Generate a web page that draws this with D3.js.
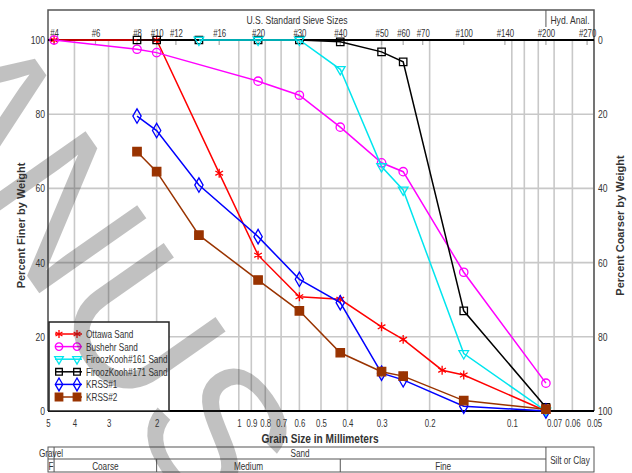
<!DOCTYPE html>
<html>
<head>
<meta charset="utf-8">
<script src="https://cdn.jsdelivr.net/npm/d3@7"></script>
<style>
body { margin: 0; background: #fff; }
svg { display: block; }
text { font-family: "Liberation Sans", Arial, sans-serif; fill: #333; }
</style>
</head>
<body>
<div id="chart"></div>
<script>
// sieve numbers on the top axis
var sieveNames = ["#4", "#6", "#8", "#10", "#12", "#16", "#20", "#30", "#40", "#50", "#60", "#70", "#100", "#140", "#200", "#270"];
var sieveMm = [4.75, 3.35, 2.36, 2.0, 1.7, 1.18, 0.85, 0.6, 0.425, 0.3, 0.25, 0.212, 0.15, 0.106, 0.075, 0.053];

// grid and tick values
var gridMm = [5, 4, 3, 2, 1, 0.9, 0.8, 0.7, 0.6, 0.5, 0.4, 0.3, 0.2, 0.1, 0.09, 0.08, 0.07, 0.06, 0.05];
var tickMm = [5, 4, 3, 2, 1, 0.9, 0.8, 0.7, 0.6, 0.5, 0.4, 0.3, 0.2, 0.1, 0.07, 0.06, 0.05];
var percentTicks = [0, 20, 40, 60, 80, 100];
var gridPercent = [20, 40, 60, 80];

// series
var seriesNames = ["Ottawa Sand", "Bushehr Sand", "FiroozKooh#161 Sand", "FiroozKooh#171 Sand", "KRSS#1", "KRSS#2"];

var ottawaSize = [4.75, 2.0, 1.18, 0.85, 0.6, 0.425, 0.3, 0.25, 0.18, 0.15, 0.075];
var ottawaFiner = [100, 100, 64.1, 42.0, 30.8, 30.1, 22.7, 19.3, 11.0, 9.7, 0];

var bushehrSize = [4.75, 2.36, 2.0, 0.85, 0.6, 0.425, 0.3, 0.25, 0.15, 0.075];
var bushehrFiner = [100, 97.5, 96.6, 88.9, 85.1, 76.5, 66.9, 64.5, 37.4, 7.5];

var firooz161Size = [1.4, 0.85, 0.6, 0.425, 0.3, 0.25, 0.15, 0.075];
var firooz161Finer = [100, 100, 100, 92.1, 65.9, 59.6, 15.5, 0];

var firooz171Size = [2.36, 2.0, 1.4, 0.85, 0.6, 0.425, 0.3, 0.25, 0.15, 0.075];
var firooz171Finer = [100, 100, 100, 100, 100, 99.5, 96.8, 94.1, 27.0, 1.0];

var krss1Size = [2.36, 2.0, 1.4, 0.85, 0.6, 0.425, 0.3, 0.25, 0.15, 0.075];
var krss1Finer = [79.5, 75.6, 60.9, 47.0, 35.5, 29.2, 10.2, 8.4, 1.3, 0];

var krss2Size = [2.36, 2.0, 1.4, 0.85, 0.6, 0.425, 0.3, 0.25, 0.15, 0.075];
var krss2Finer = [69.9, 64.5, 47.4, 35.3, 27.0, 15.7, 10.6, 9.4, 2.8, 0.5];

// soil classification bands (mm)
var classTop = ["Gravel", "Sand"];
var classTopBounds = [5, 4.75, 0.075];
var classBottom = ["F", "Coarse", "Medium", "Fine"];
var classBottomBounds = [5, 4.75, 2.0, 0.425, 0.075];

var width = 632, height = 473;
var plotLeft = 48, plotRight = 594, plotTop = 40, plotBottom = 411;

var svg = d3.select("#chart").append("svg")
    .attr("width", width)
    .attr("height", height);

var x = d3.scaleLog().domain([5, 0.05]).range([plotLeft, plotRight]);
var y = d3.scaleLinear().domain([0, 100]).range([plotBottom, plotTop]);
var yCoarse = d3.scaleLinear().domain([100, 0]).range([plotBottom, plotTop]);

//grid
var grid = svg.append("g").attr("stroke", "#c8c8c8").attr("stroke-width", 1.6);
grid.selectAll(".vg").data(gridMm).enter().append("line")
    .attr("x1", d => x(d)).attr("x2", d => x(d))
    .attr("y1", plotTop).attr("y2", plotBottom);
grid.selectAll(".hg").data(gridPercent).enter().append("line")
    .attr("x1", plotLeft).attr("x2", plotRight)
    .attr("y1", d => y(d)).attr("y2", d => y(d));

// sieve ticks hanging under the top line
svg.append("g").selectAll("line").data(sieveMm).enter().append("line")
    .attr("x1", d => x(d)).attr("x2", d => x(d))
    .attr("y1", plotTop).attr("y2", plotTop + 5)
    .attr("stroke", "#aaa").attr("stroke-width", 1.2);

//frame
var frame = svg.append("g").attr("fill", "none");
frame.append("path")
    .attr("d", "M" + plotLeft + "," + plotBottom + "V10H" + plotRight + "V" + plotBottom)
    .attr("stroke", "#555").attr("stroke-width", 1.5);
frame.append("line")
    .attr("x1", x(0.075)).attr("x2", x(0.075)).attr("y1", 10).attr("y2", 27)
    .attr("stroke", "#555");
frame.append("line")
    .attr("x1", plotLeft).attr("x2", plotRight).attr("y1", plotTop).attr("y2", plotTop)
    .attr("stroke", "#000").attr("stroke-width", 2);
frame.append("line")
    .attr("x1", plotLeft).attr("x2", plotRight).attr("y1", plotBottom).attr("y2", plotBottom)
    .attr("stroke", "#000").attr("stroke-width", 2);

//axes
function drawAxis(axis, transform, size) {
    var g = svg.append("g").attr("transform", transform).call(axis);
    g.select(".domain").remove();
    g.selectAll("text").attr("class", "narrow").style("font-size", size)
        .style("font-family", null).attr("fill", "#333");
    return g;
}

drawAxis(d3.axisLeft(y).tickValues(percentTicks).tickSize(0).tickPadding(3),
    "translate(" + plotLeft + ",0)", "11px");
drawAxis(d3.axisRight(yCoarse).tickValues(percentTicks).tickSize(0).tickPadding(4),
    "translate(" + plotRight + ",0)", "11px");
drawAxis(d3.axisBottom(x).tickValues(tickMm).tickFormat(d => String(d)).tickSize(0).tickPadding(9),
    "translate(0," + plotBottom + ")", "10px");
drawAxis(d3.axisTop(x).tickValues(sieveMm).tickFormat((d, i) => sieveNames[i]).tickSize(0).tickPadding(3),
    "translate(0," + plotTop + ")", "10px");

svg.append("text").attr("class", "narrow")
    .attr("x", (plotLeft + x(0.075)) / 2).attr("y", 24)
    .attr("text-anchor", "middle").style("font-size", "11px")
    .text("U.S. Standard Sieve Sizes");
svg.append("text").attr("class", "narrow")
    .attr("x", (x(0.075) + plotRight) / 2).attr("y", 24)
    .attr("text-anchor", "middle").style("font-size", "11px")
    .text("Hyd. Anal.");

// axis titles
svg.append("text").attr("class", "narrow")
    .attr("x", 320).attr("y", 443)
    .attr("text-anchor", "middle")
    .style("font-size", "13px").style("font-weight", "bold").attr("fill", "#000")
    .text("Grain Size in Millimeters");
svg.append("text")
    .attr("transform", "translate(25," + (plotTop + plotBottom) / 2 + ") rotate(-90)")
    .attr("text-anchor", "middle")
    .style("font-size", "11px").style("font-weight", "bold").attr("fill", "#000")
    .text("Percent Finer by Weight");
svg.append("text")
    .attr("transform", "translate(624," + (plotTop + plotBottom) / 2 + ") rotate(-90)")
    .attr("text-anchor", "middle")
    .style("font-size", "11px").style("font-weight", "bold").attr("fill", "#000")
    .text("Percent Coarser by Weight");

// classification table
var rowA = 447, rowB = 459, rowC = 472;
var table = svg.append("g").attr("fill", "none").attr("stroke", "#555");
table.append("rect").attr("x", plotLeft).attr("y", rowA)
    .attr("width", plotRight - plotLeft).attr("height", rowC - rowA);
table.append("line").attr("x1", plotLeft).attr("x2", x(0.075)).attr("y1", rowB).attr("y2", rowB);
table.selectAll(".ta").data(classTopBounds.slice(1)).enter().append("line")
    .attr("x1", d => x(d)).attr("x2", d => x(d)).attr("y1", rowA).attr("y2", rowB);
table.selectAll(".tb").data(classBottomBounds.slice(1)).enter().append("line")
    .attr("x1", d => x(d)).attr("x2", d => x(d)).attr("y1", rowB).attr("y2", rowC);

svg.append("g").selectAll("text").data(classTop).enter().append("text").attr("class", "narrow")
    .attr("x", (d, i) => (x(classTopBounds[i]) + x(classTopBounds[i + 1])) / 2)
    .attr("y", rowB - 2)
    .attr("text-anchor", "middle").style("font-size", "10.5px")
    .text(d => d);
svg.append("g").selectAll("text").data(classBottom).enter().append("text").attr("class", "narrow")
    .attr("x", (d, i) => (x(classBottomBounds[i]) + x(classBottomBounds[i + 1])) / 2)
    .attr("y", rowC - 2)
    .attr("text-anchor", "middle").style("font-size", "10.5px")
    .text(d => d);
svg.append("text").attr("class", "narrow")
    .attr("x", (x(0.075) + plotRight) / 2).attr("y", (rowA + rowC) / 2 + 4)
    .attr("text-anchor", "middle").style("font-size", "10.5px")
    .text("Silt or Clay");

//build series
var sizes = [ottawaSize, bushehrSize, firooz161Size, firooz171Size, krss1Size, krss2Size];
var finers = [ottawaFiner, bushehrFiner, firooz161Finer, firooz171Finer, krss1Finer, krss2Finer];
var colours = ["#ff0000", "#ff00ff", "#00e5ee", "#000000", "#0000ff", "#993300"];
var symbols = [d3.symbolAsterisk, d3.symbolCircle, d3.symbolTriangle, d3.symbolSquare, d3.symbolDiamond, d3.symbolSquare];
var symbolSizes = [55, 55, 40, 55, 60, 70];
var filled = [false, false, false, false, false, true];
var rotations = [0, 0, 180, 0, 0, 0];
var drawOrder = [0, 1, 3, 2, 4, 5];

var series = seriesNames.map((name, i) => ({
    name: name,
    colour: colours[i],
    symbol: symbols[i],
    size: symbolSizes[i],
    filled: filled[i],
    rotate: rotations[i],
    values: sizes[i].map((s, j) => ({ mm: s, finer: finers[i][j] }))
}));

var line = d3.line()
    .x(d => x(d.mm))
    .y(d => y(d.finer));

function marker(sel, s, size) {
    sel.attr("d", d3.symbol().type(s.symbol).size(size))
        .attr("fill", s.filled ? s.colour : "none")
        .attr("stroke", s.colour)
        .attr("stroke-width", 1.3);
}

var plot = svg.append("g");
drawOrder.forEach(function (k) {
    var s = series[k];
    var g = plot.append("g");
    g.append("path")
        .attr("fill", "none")
        .attr("stroke", s.colour)
        .attr("stroke-width", 1.5)
        .attr("d", line(s.values));
    g.selectAll("path.m").data(s.values).enter().append("path")
        .attr("class", "m")
        .attr("transform", d => "translate(" + x(d.mm) + "," + y(d.finer) + ") rotate(" + s.rotate + ")")
        .call(marker, s, s.size);
});

//legend
var legend = svg.append("g");
legend.append("rect")
    .attr("x", 49).attr("y", 322).attr("width", 120).attr("height", 89)
    .attr("fill", "#fff").attr("stroke", "#222").attr("stroke-width", 1.5);
var items = legend.selectAll(".item").data(series).enter().append("g")
    .attr("transform", (d, i) => "translate(0," + (334 + i * 12.6) + ")");
items.append("line")
    .attr("x1", 55).attr("x2", 82).attr("y1", 0).attr("y2", 0)
    .attr("stroke", d => d.colour).attr("stroke-width", 1.5);
[59, 77].forEach(function (mx) {
    items.append("path")
        .attr("transform", d => "translate(" + mx + ",0) rotate(" + d.rotate + ")")
        .each(function (d) { d3.select(this).call(marker, d, d.size * 0.8); });
});
items.append("text").attr("class", "narrow")
    .attr("x", 86).attr("y", 4)
    .style("font-size", "10.5px")
    .text(d => d.name);

// no narrow face installed: squeeze the regular one
svg.selectAll("text.narrow").each(function () {
    var len = this.getComputedTextLength();
    d3.select(this).attr("textLength", len * 0.78).attr("lengthAdjust", "spacingAndGlyphs");
});

// grey watermark lying over the sheet
var wmAngle = 55, wmSize = 190;
var rad = wmAngle * Math.PI / 180;
var nx = 35 - 0.6 * wmSize * Math.cos(rad), ny = 287 - 0.6 * wmSize * Math.sin(rad);
var wm = svg.append("g")
    .attr("transform", "translate(" + nx + "," + ny + ") rotate(" + wmAngle + ")")
    .style("pointer-events", "none");
wm.append("text").attr("text-anchor", "end").text("MA");
wm.append("text").attr("text-anchor", "start").text("NUSCRIPT");
wm.selectAll("text")
    .style("font-size", wmSize + "px")
    .attr("fill", "#000").attr("fill-opacity", 0.3);
</script>
</body>
</html>
